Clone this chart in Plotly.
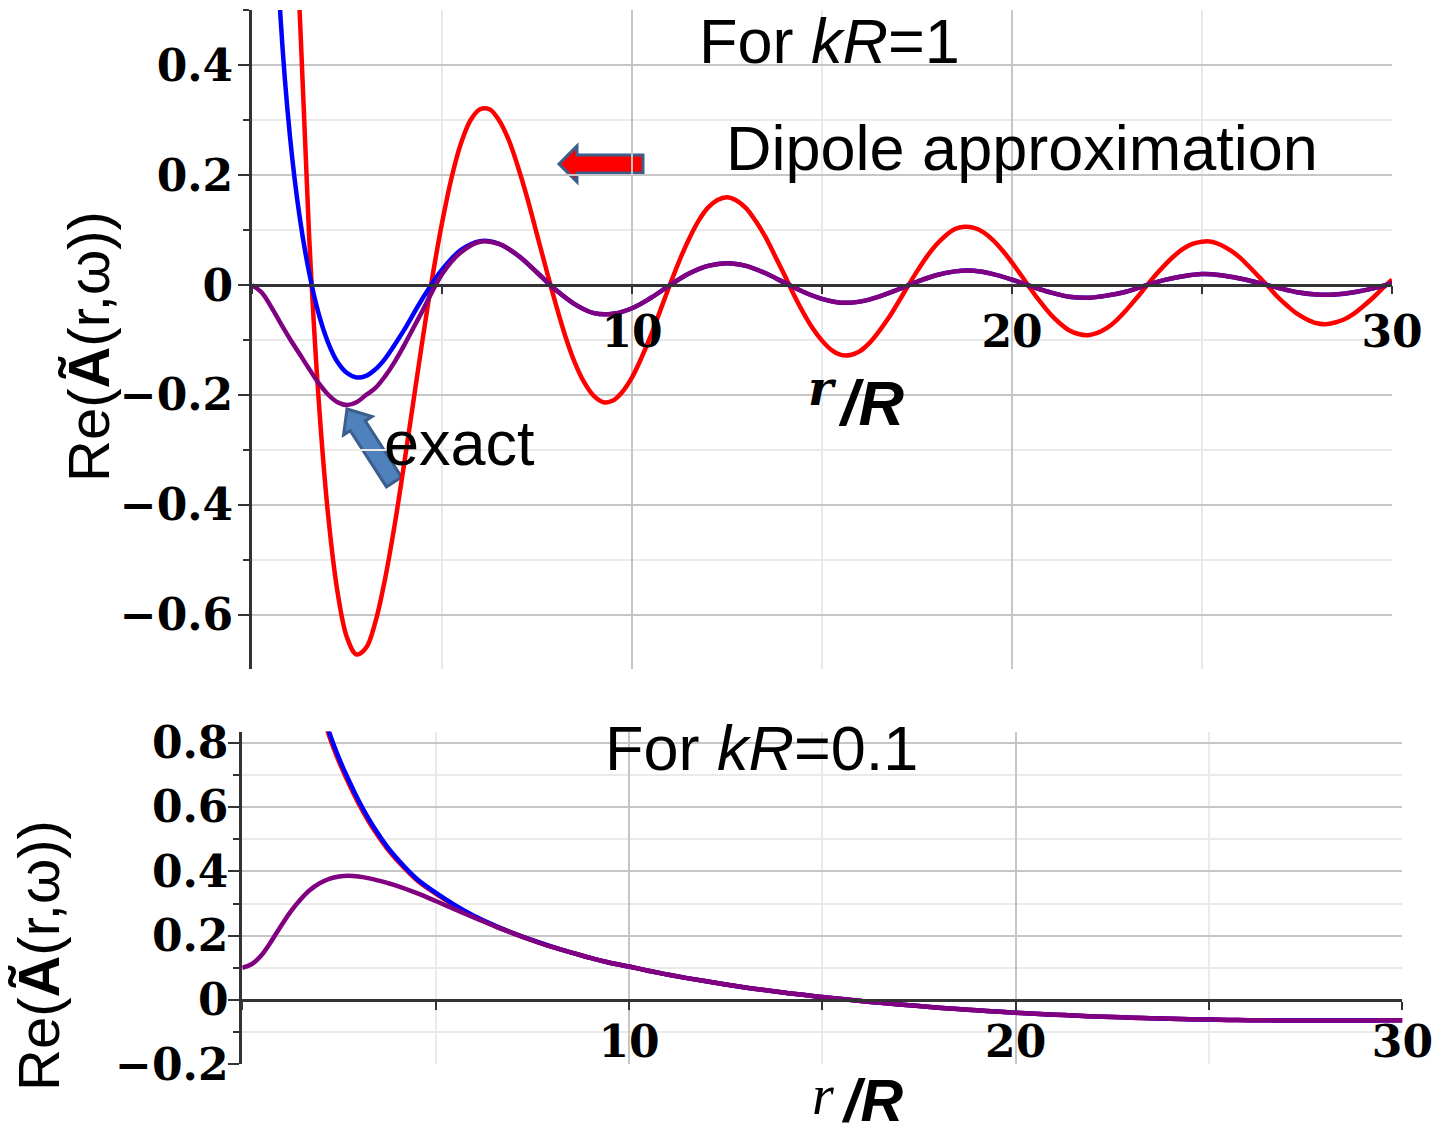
import plotly.graph_objects as go

# ---------------- data ----------------
r = [0, 0.25, 0.5, 0.75, 1.0, 1.25, 1.5, 1.75, 2.0, 2.25, 2.5, 2.75, 3.0, 3.25, 3.5, 3.75, 4.0,
     4.5, 5.0, 5.5, 6.0, 6.5, 7.0, 7.5, 8.0, 8.5, 9.0, 9.5, 10.0,
     10.5, 11.0, 11.5, 12.0, 12.5, 13.0, 13.5, 14.0, 14.5, 15.0, 15.5, 16.0,
     16.5, 17.0, 17.5, 18.0, 18.5, 19.0, 19.5, 20.0, 20.5, 21.0, 21.5, 22.0,
     22.5, 23.0, 23.5, 24.0, 24.5, 25.0, 25.5, 26.0, 26.5, 27.0, 27.5, 28.0,
     28.5, 29.0, 29.5, 30.0]

# finer sampling for the strongly oscillating red curve (kR = 1)
r_fine = [1.0, 1.25, 1.5, 1.75, 2.0, 2.25, 2.5, 2.75, 3.0, 3.25, 3.5, 3.75, 4.0,
          4.25, 4.5, 4.75, 5.0, 5.25, 5.5, 5.75, 6.0, 6.25, 6.5, 6.75, 7.0,
          7.25, 7.5, 7.75, 8.0, 8.25, 8.5, 8.75, 9.0, 9.25, 9.5, 9.75, 10.0,
          10.25, 10.5, 10.75, 11.0, 11.25, 11.5, 11.75, 12.0, 12.25, 12.5, 12.75, 13.0,
          13.25, 13.5, 13.75, 14.0, 14.25, 14.5, 14.75, 15.0, 15.25, 15.5, 15.75, 16.0,
          16.25, 16.5, 16.75, 17.0, 17.25, 17.5, 17.75, 18.0, 18.25, 18.5, 18.75, 19.0,
          19.25, 19.5, 19.75, 20.0, 20.25, 20.5, 20.75, 21.0, 21.25, 21.5, 21.75, 22.0,
          22.25, 22.5, 22.75, 23.0, 23.25, 23.5, 23.75, 24.0, 24.25, 24.5, 24.75, 25.0,
          25.25, 25.5, 25.75, 26.0, 26.25, 26.5, 26.75, 27.0, 27.25, 27.5, 27.75, 28.0,
          28.25, 28.5, 28.75, 29.0, 29.25, 29.5, 29.75, 30.0]

# kR = 1 : dipole approximation (red)
top_dipole = [1.081, 0.505, 0.094, -0.204, -0.416, -0.558, -0.641, -0.672, -0.660, -0.612, -0.535, -0.438, -0.327,
              -0.210, -0.094, 0.016, 0.113, 0.195, 0.258, 0.300, 0.320, 0.320, 0.300, 0.265, 0.215,
              0.157, 0.092, 0.027, -0.036, -0.094, -0.142, -0.178, -0.202, -0.213, -0.210, -0.194, -0.168,
              -0.132, -0.091, -0.045, 0.001, 0.045, 0.084, 0.117, 0.141, 0.155, 0.160, 0.154, 0.140,
              0.117, 0.089, 0.055, 0.020, -0.016, -0.049, -0.078, -0.101, -0.118, -0.127, -0.127, -0.120,
              -0.105, -0.084, -0.060, -0.032, -0.003, 0.025, 0.051, 0.073, 0.090, 0.102, 0.106, 0.104,
              0.096, 0.082, 0.063, 0.041, 0.017, -0.008, -0.031, -0.052, -0.069, -0.082, -0.089, -0.091,
              -0.087, -0.078, -0.064, -0.046, -0.026, -0.005, 0.016, 0.035, 0.052, 0.066, 0.075, 0.079,
              0.079, 0.073, 0.063, 0.050, 0.033, 0.015, -0.003, -0.022, -0.038, -0.052, -0.062, -0.069,
              -0.071, -0.068, -0.062, -0.052, -0.038, -0.023, -0.006, 0.010]
# kR = 1 : blue curve
top_blue = [None, None, 0.878, 0.488, 0.270, 0.126, 0.024, -0.051, -0.104, -0.140, -0.160, -0.168, -0.165, -0.153, -0.134, -0.109, -0.082,
            -0.023, 0.028, 0.064, 0.080, 0.075, 0.054, 0.023, -0.009, -0.035, -0.051, -0.052, -0.042,
            -0.023, 0.000, 0.021, 0.035, 0.040, 0.035, 0.022, 0.005, -0.012, -0.025, -0.032, -0.030,
            -0.021, -0.008, 0.006, 0.018, 0.025, 0.026, 0.020, 0.010, -0.002, -0.013, -0.021, -0.023,
            -0.019, -0.012, -0.001, 0.009, 0.016, 0.020, 0.018, 0.012, 0.004, -0.005, -0.013, -0.017,
            -0.017, -0.013, -0.006, 0.003]
# kR = 1 : exact (purple)
top_exact = [0.000, -0.013, -0.039, -0.069, -0.098, -0.125, -0.152, -0.178, -0.199, -0.213, -0.218, -0.213, -0.200, -0.187, -0.166, -0.140, -0.110,
             -0.045, 0.020, 0.060, 0.079, 0.075, 0.054, 0.023, -0.009, -0.035, -0.051, -0.052, -0.042,
             -0.023, 0.000, 0.021, 0.035, 0.040, 0.035, 0.022, 0.005, -0.012, -0.025, -0.032, -0.030,
             -0.021, -0.008, 0.006, 0.018, 0.025, 0.026, 0.020, 0.010, -0.002, -0.013, -0.021, -0.023,
             -0.019, -0.012, -0.001, 0.009, 0.016, 0.020, 0.018, 0.012, 0.004, -0.005, -0.013, -0.017,
             -0.017, -0.013, -0.006, 0.003]

# kR = 0.1
bot_dipole = [None, None, None, None, None, None, None, None, 0.922, 0.820, 0.741, 0.674, 0.613, 0.559, 0.512, 0.470, 0.435,
              0.374, 0.331, 0.293, 0.259, 0.232, 0.208, 0.186, 0.166, 0.148, 0.131, 0.116, 0.104,
              0.091, 0.079, 0.068, 0.058, 0.048, 0.039, 0.031, 0.023, 0.016, 0.009, 0.003, -0.003,
              -0.009, -0.014, -0.019, -0.024, -0.028, -0.032, -0.036, -0.040, -0.043, -0.046, -0.048, -0.051,
              -0.053, -0.055, -0.057, -0.058, -0.060, -0.061, -0.062, -0.063, -0.063, -0.064, -0.064, -0.064,
              -0.064, -0.064, -0.063, -0.063]
bot_blue = [None, None, None, None, None, None, None, None, 0.935, 0.832, 0.752, 0.684, 0.622, 0.567, 0.519, 0.476, 0.440,
            0.378, 0.334, 0.295, 0.261, 0.233, 0.208, 0.186, 0.166, 0.148, 0.131, 0.116, 0.104,
            0.091, 0.079, 0.068, 0.058, 0.048, 0.039, 0.031, 0.023, 0.016, 0.009, 0.003, -0.003,
            -0.009, -0.014, -0.019, -0.024, -0.028, -0.032, -0.036, -0.040, -0.043, -0.046, -0.048, -0.051,
            -0.053, -0.055, -0.057, -0.058, -0.060, -0.061, -0.062, -0.063, -0.063, -0.064, -0.064, -0.064,
            -0.064, -0.064, -0.063, -0.063]
bot_exact = [0.100, 0.112, 0.140, 0.183, 0.230, 0.275, 0.312, 0.342, 0.363, 0.377, 0.384, 0.386, 0.384, 0.379, 0.372, 0.364, 0.355,
             0.333, 0.308, 0.282, 0.256, 0.231, 0.207, 0.185, 0.165, 0.148, 0.131, 0.116, 0.104,
             0.091, 0.079, 0.068, 0.058, 0.048, 0.039, 0.031, 0.023, 0.016, 0.009, 0.003, -0.003,
             -0.009, -0.014, -0.019, -0.024, -0.028, -0.032, -0.036, -0.040, -0.043, -0.046, -0.048, -0.051,
             -0.053, -0.055, -0.057, -0.058, -0.060, -0.061, -0.062, -0.063, -0.063, -0.064, -0.064, -0.064,
             -0.064, -0.064, -0.063, -0.063]

x_tickvals = [0, 10, 20, 30]
x_ticktext = ["", "10", "20", "30"]
x_minor = [5, 15, 25]

# ---------------- layout helpers ----------------
W, H = 1437, 1135


def px(x):
    return x / W


def py(y):
    return 1 - y / H


RED, BLUE, PURPLE = "#FF0000", "#0000FF", "#800080"
GRID_MAJ, GRID_MIN = "#C6C6C6", "#EAEAEA"
AXC = "#333333"
TICKFONT = dict(family="DejaVu Serif", size=44, color="black", weight="bold")
SANS = "Liberation Sans, Arial, sans-serif"
LW = 4.5
SMOOTH = 1.0

fig = go.Figure()
for xs, ys, col in [(r_fine, top_dipole, RED), (r, top_blue, BLUE), (r, top_exact, PURPLE)]:
    fig.add_trace(go.Scatter(x=xs, y=ys, mode="lines", xaxis="x", yaxis="y",
                             line=dict(color=col, width=LW, shape="spline", smoothing=SMOOTH),
                             hoverinfo="skip", showlegend=False))
for ys, col in [(bot_dipole, RED), (bot_blue, BLUE), (bot_exact, PURPLE)]:
    fig.add_trace(go.Scatter(x=r, y=ys, mode="lines", xaxis="x2", yaxis="y2",
                             line=dict(color=col, width=LW, shape="spline", smoothing=SMOOTH),
                             hoverinfo="skip", showlegend=False))


def xaxis_cfg(dom, pos, standoff):
    return dict(domain=dom, range=[0, 30], anchor="free", position=pos, automargin=False,
                showline=True, linecolor=AXC, linewidth=2.5,
                tickmode="array", tickvals=x_tickvals, ticktext=x_ticktext,
                ticks="outside", ticklen=8, tickwidth=2, tickcolor=AXC,
                tickfont=TICKFONT, ticklabelstandoff=standoff,
                showgrid=True, gridcolor=GRID_MAJ, gridwidth=2, zeroline=False,
                minor=dict(tickmode="array", tickvals=x_minor, ticks="outside", ticklen=8,
                           tickwidth=2, tickcolor=AXC, showgrid=True,
                           gridcolor=GRID_MIN, gridwidth=1.5))


def yaxis_cfg(dom, rng, anchor, standoff):
    return dict(domain=dom, range=rng, anchor=anchor, automargin=False,
                showline=True, linecolor=AXC, linewidth=3,
                tickmode="linear", tick0=0, dtick=0.2,
                ticks="outside", ticklen=11, tickwidth=2, tickcolor=AXC,
                tickfont=TICKFONT, ticklabelstandoff=standoff,
                showgrid=True, gridcolor=GRID_MAJ, gridwidth=2, zeroline=False,
                minor=dict(tick0=0, dtick=0.1, ticks="outside", ticklen=6, tickwidth=2,
                           tickcolor=AXC, showgrid=True, gridcolor=GRID_MIN, gridwidth=1.5))


fig.update_layout(
    width=W, height=H,
    margin=dict(l=0, r=0, t=0, b=0, pad=0, autoexpand=False),
    paper_bgcolor="white", plot_bgcolor="white",
    showlegend=False,
    xaxis=xaxis_cfg([px(252), px(1392)], py(284.5), 0),
    yaxis=yaxis_cfg([py(668.8), py(10)], [-0.698, 0.5005], "x", -4),
    xaxis2=xaxis_cfg([px(242.3), px(1402.4)], py(1000), -6),
    yaxis2=yaxis_cfg([py(1064.3), py(731.5)], [-0.2, 0.835], "x2", -9),
)


def text(s, x, y, size=63, family=SANS, angle=0):
    fig.add_annotation(text=s, x=px(x), y=py(y), xref="paper", yref="paper",
                       xanchor="center", yanchor="middle", showarrow=False,
                       textangle=angle, font=dict(family=family, size=size, color="black"))


text("Re(<b>Ã</b>(r,ω))", 88, 347, size=58, angle=-90)
text("Re(<b>Ã</b>(r,ω))", 38, 956, size=58, angle=-90)
text("For <i>kR</i>=1", 829, 41)
text("Dipole approximation", 1022, 148)
text("exact", 459, 443)
text("For <i>kR</i>=0.1", 761, 748)
# axis titles r /R
text("<b><i>r</i></b>", 822, 388, size=48, family="DejaVu Serif")
text("<b><i>/R</i></b>", 872, 403, size=63)
text("<i>r</i>", 823, 1095, size=56, family="Liberation Serif")
text("<b><i>/R</i></b>", 872, 1101, size=59)


# block arrows
def block_arrow(tip, tail, head_len, head_half, shaft_half, fill, line):
    tx, ty = tip
    bx, by = tail
    dx, dy = tx - bx, ty - by
    L = (dx * dx + dy * dy) ** 0.5
    ux, uy = dx / L, dy / L
    nx, ny = -uy, ux
    hx, hy = tx - head_len * ux, ty - head_len * uy
    pts = [
        (tx, ty),
        (hx + head_half * nx, hy + head_half * ny),
        (hx + shaft_half * nx, hy + shaft_half * ny),
        (bx + shaft_half * nx, by + shaft_half * ny),
        (bx - shaft_half * nx, by - shaft_half * ny),
        (hx - shaft_half * nx, hy - shaft_half * ny),
        (hx - head_half * nx, hy - head_half * ny),
    ]
    path = "M " + " L ".join(f"{px(a):.5f},{py(b):.5f}" for a, b in pts) + " Z"
    fig.add_shape(type="path", path=path, xref="paper", yref="paper",
                  fillcolor=fill, line=dict(color=line, width=3), layer="between")


block_arrow((559, 164), (643, 164), 18, 18, 9, "#FF0000", "#3B5E8C")
block_arrow((347, 409), (394, 482), 20, 17, 9, "#4F81BD", "#3B5E8C")

fig.write_html("out.html", config={"displayModeBar": False},
               post_script="document.body.style.margin='0px';document.body.style.overflow='hidden';")
